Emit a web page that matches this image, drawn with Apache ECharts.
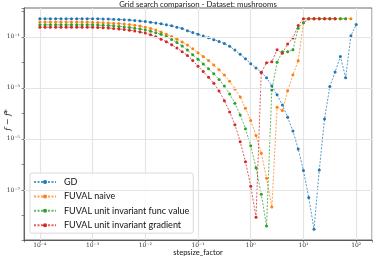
<!DOCTYPE html>
<html>
<head>
<meta charset="utf-8">
<script src="https://cdn.jsdelivr.net/npm/echarts@6/dist/echarts.min.js"></script>
<style>html,body{margin:0;padding:0;background:#fff}#c{width:374px;height:258px}</style>
</head>
<body>
<div id="c"></div>
<script>
// stepsize factors (x)
const stepsizes = [
  1e-4,1.259e-4,1.585e-4,1.995e-4,2.512e-4,3.162e-4,3.981e-4,5.012e-4,6.31e-4,7.943e-4,
  1e-3,1.259e-3,1.585e-3,1.995e-3,2.512e-3,3.162e-3,3.981e-3,5.012e-3,6.31e-3,7.943e-3,
  1e-2,1.259e-2,1.585e-2,1.995e-2,2.512e-2,3.162e-2,3.981e-2,5.012e-2,6.31e-2,7.943e-2,
  1e-1,1.259e-1,1.585e-1,1.995e-1,2.512e-1,3.162e-1,3.981e-1,5.012e-1,6.31e-1,7.943e-1,
  1,1.259,1.585,1.995,2.512,3.162,3.981,5.012,6.31,7.943,
  10,12.59,15.85,19.95,25.12,31.62,39.81,50.12,63.1,79.43,
  100
];
// log10(f - f*)
const gdLog = [
  -0.29,-0.29,-0.29,-0.29,-0.29,-0.29,-0.29,-0.29,-0.29,-0.29,
  -0.29,-0.29,-0.30,-0.30,-0.31,-0.32,-0.33,-0.34,-0.36,-0.38,
  -0.40,-0.43,-0.46,-0.49,-0.53,-0.57,-0.62,-0.67,-0.76,-0.83,
  -0.90,-0.97,-1.04,-1.11,-1.18,-1.26,-1.37,-1.52,-1.68,-1.86,
  -2.05,-2.22,-2.39,-2.60,-2.93,-3.27,-3.67,-4.15,-4.69,-5.39,
  -6.24,-7.29,-8.54,-6.22,-4.22,-2.95,-2.38,-1.77,-2.60,-0.96,
  -0.52
];
const naiveLog = [
  -0.42,-0.42,-0.42,-0.42,-0.42,-0.42,-0.42,-0.42,-0.42,-0.42,
  -0.43,-0.44,-0.45,-0.46,-0.47,-0.48,-0.50,-0.52,-0.55,-0.58,
  -0.62,-0.67,-0.73,-0.81,-0.90,-0.99,-1.09,-1.20,-1.32,-1.47,
  -1.62,-1.77,-1.93,-2.10,-2.29,-2.50,-2.74,-3.04,-3.36,-3.80,
  -4.28,-4.87,-5.56,-6.54,-7.67,-3.76,-3.89,-3.11,-2.49,-1.94,
  -0.45,-0.29,-0.29,-0.29,-0.29,-0.29,-0.29,-0.29,-0.29,-0.29,
  null
];
const funcValLog = [
  -0.53,-0.53,-0.53,-0.53,-0.53,-0.53,-0.53,-0.53,-0.53,-0.53,
  -0.53,-0.54,-0.55,-0.56,-0.57,-0.59,-0.61,-0.63,-0.66,-0.69,
  -0.73,-0.78,-0.84,-0.90,-0.99,-1.10,-1.22,-1.36,-1.52,-1.70,
  -1.88,-2.06,-2.25,-2.45,-2.67,-2.93,-3.24,-3.60,-4.06,-4.60,
  -5.27,-6.13,-7.17,-8.41,-3.08,-2.00,-1.58,-1.58,-1.51,-0.66,
  -0.45,-0.29,-0.29,-0.29,-0.29,-0.29,-0.29,-0.29,-0.29,null,
  null
];
const gradLog = [
  -0.62,-0.62,-0.62,-0.62,-0.62,-0.62,-0.62,-0.62,-0.62,-0.62,
  -0.62,-0.63,-0.64,-0.65,-0.67,-0.69,-0.71,-0.74,-0.77,-0.81,
  -0.85,-0.92,-1.00,-1.09,-1.19,-1.31,-1.44,-1.58,-1.73,-1.93,
  -2.15,-2.36,-2.58,-2.82,-3.12,-3.50,-3.94,-4.44,-5.11,-5.89,
  -6.85,-8.07,-2.40,-2.02,-1.98,-1.51,-1.64,-1.28,-1.05,-0.56,
  -0.29,-0.29,-0.29,-0.29,-0.29,-0.29,-0.29,null,null,null,
  null
];
const seriesNames = ['GD','FUVAL naive','FUVAL unit invariant func value','FUVAL unit invariant gradient'];
const seriesColors = ['#1f77b4','#ff7f0e','#2ca02c','#d62728'];
const xDecades = [-4,-3,-2,-1,0,1,2];
const yDecades = [-1,-3,-5,-7];
const titleText = 'Grid search comparison - Dataset: mushrooms';
const xName = 'stepsize_factor';
const yName = 'f − f*';

const sup = {'-':'⁻','0':'⁰','1':'¹','2':'²','3':'³','4':'⁴','5':'⁵','6':'⁶','7':'⁷','8':'⁸','9':'⁹'};
function powLabel(k){ return '10' + String(k).split('').map(c=>sup[c]).join(''); }
function isDecade(v, list){ return list.some(k=>Math.abs(v-k)<1e-6); }

// axes are drawn in log10 space (matplotlib log axes)
const logs = [gdLog, naiveLog, funcValLog, gradLog];
const series = [{
  type:'line', name:'_grid', data:[], silent:true,
  markLine:{silent:true, symbol:'none', label:{show:false}, animation:false,
    lineStyle:{color:'#e4e4e4', width:1.2, type:'solid'},
    data: yDecades.map(k=>({yAxis:k}))}
}];
logs.forEach((arr,si)=>{
  series.push({
    type:'line', name:seriesNames[si],
    data: arr.map((v,i)=> [Math.log10(stepsizes[i]), v]),
    symbol:'circle', symbolSize:3, showSymbol:true,
    itemStyle:{color:seriesColors[si]},
    lineStyle:{color:seriesColors[si], width:1, type:[2,1.5], opacity:0.75},
    emphasis:{disabled:true}, animation:false
  });
});

const chart = echarts.init(document.getElementById('c'), null, {renderer:'canvas'});
chart.setOption({
  animation:false,
  backgroundColor:'#fff',
  grid:{left:24, right:2, top:8, bottom:18, show:true, borderColor:'#444', borderWidth:0.8,
        containLabel:false, outerBoundsMode:'none'},
  graphic:[
    {type:'text', x:198, y:4, style:{text:titleText, fill:'#222', font:'7.8px Lato', textAlign:'center', textVerticalAlign:'middle'}},
    {type:'text', x:8, y:120, rotation:Math.PI/2, style:{text:yName, fill:'#111', font:'italic 8px "DejaVu Serif"', textAlign:'center', textVerticalAlign:'middle'}},
    {type:'text', x:198, y:253, style:{text:xName, fill:'#111', font:'7.5px Lato', textAlign:'center', textVerticalAlign:'middle'}}
  ],
  legend:{
    data:seriesNames, orient:'vertical', left:30, top:173,
    itemWidth:22, itemHeight:5, itemGap:2.4,
    padding:[3,4,2,3],
    backgroundColor:'rgba(255,255,255,0.85)', borderColor:'#d0d0d0', borderWidth:0.8, borderRadius:2,
    textStyle:{fontFamily:'Lato', fontSize:9, color:'#111', lineHeight:12, padding:[0,0,0,3]}
  },
  xAxis:{
    type:'value', min:-4.3, max:2.3, splitNumber:6,
    axisLine:{show:true, onZero:false, lineStyle:{color:'#444', width:0.8}},
    axisTick:{show:true, length:2.5, lineStyle:{color:'#444', width:0.6}},
    axisLabel:{fontFamily:'DejaVu Serif', fontSize:6, color:'#333', margin:2.5, showMinLabel:true, showMaxLabel:true,
      formatter:v=>isDecade(v,xDecades)?powLabel(Math.round(v)):''},
    splitLine:{show:true, lineStyle:{color:'#e4e4e4', width:1.2}}
  },
  yAxis:{
    type:'value', min:-8.96, max:0.13, splitNumber:9,
    axisLine:{show:true, onZero:false, lineStyle:{color:'#444', width:0.8}},
    axisTick:{show:true, length:2.5, lineStyle:{color:'#444', width:0.6}},
    axisLabel:{fontFamily:'DejaVu Serif', fontSize:6, color:'#333', margin:4,
      formatter:v=>isDecade(v,yDecades)?powLabel(Math.round(v)):''},
    splitLine:{show:false}
  },
  series:series
});
</script>
</body>
</html>
